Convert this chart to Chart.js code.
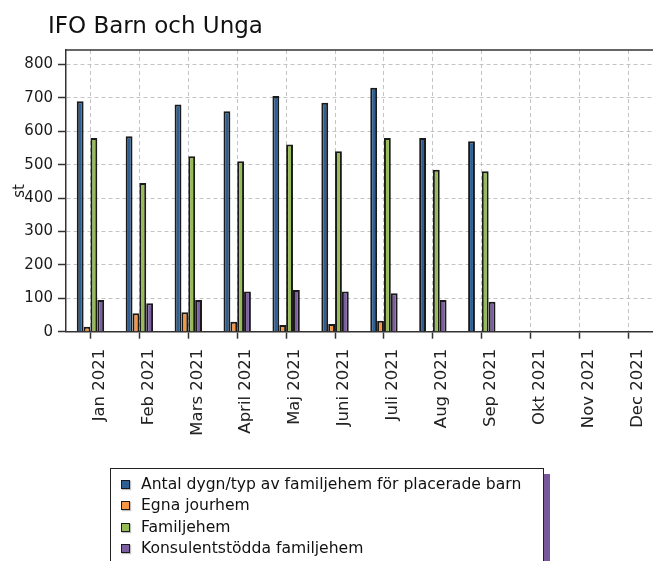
<!DOCTYPE html>
<html>
<head>
<meta charset="utf-8">
<script src="https://cdn.jsdelivr.net/npm/chart.js@4/dist/chart.umd.min.js"></script>
<style>
html,body{margin:0;padding:0;background:#fff;}
#wrap{position:relative;width:653px;height:561px;overflow:hidden;background:#fff;}
#c{position:absolute;left:0;top:0;}
#title{position:absolute;left:48px;top:14px;font-family:"DejaVu Sans";font-size:23px;line-height:23px;color:#111;white-space:nowrap;}
#legend{position:absolute;left:110px;top:468px;width:434px;height:120px;border:1.5px solid #222;background:#fff;box-shadow:6px 6px 0 0 #76589b;padding:5px 0 0 10px;box-sizing:border-box;font-family:"DejaVu Sans";font-size:15.6px;line-height:21.4px;color:#111;}
#legend .row{white-space:nowrap;}
#legend .sw{display:inline-block;width:7px;height:7px;border:1.5px solid #1a1a1a;margin-right:11px;box-shadow:1px 1px 1px rgba(0,0,0,0.25);}
</style>
</head>
<body>
<div id="wrap">
  <canvas id="c" width="653" height="561"></canvas>
  <div id="title">IFO Barn och Unga</div>
  <div id="legend"></div>
</div>
<script>
const categories = ['Jan 2021','Feb 2021','Mars 2021','April 2021','Maj 2021','Juni 2021','Juli 2021','Aug 2021','Sep 2021','Okt 2021','Nov 2021','Dec 2021'];
const seriesNames = ['Antal dygn/typ av familjehem för placerade barn','Egna jourhem','Familjehem','Konsulentstödda familjehem'];
const antalDygn   = [690, 585, 680, 660, 705, 685, 730, 580, 570, null, null, null];
const egnaJourhem = [15, 55, 58, 30, 20, 23, 33, null, null, null, null, null];
const familjehem  = [580, 445, 525, 510, 560, 540, 580, 485, 480, null, null, null];
const konsulent   = [95, 85, 95, 120, 125, 120, 115, 95, 90, null, null, null];
const yTicks = [0, 100, 200, 300, 400, 500, 600, 700, 800];
const yAxisTitle = 'st';

const colors = ['#2d5e94', '#f59745', '#97bb55', '#7d5ea1'];
const seriesData = [antalDygn, egnaJourhem, familjehem, konsulent];

const frameTop = {
  id: 'frameTop',
  afterDraw(chart) {
    const {ctx, chartArea: {left, right, top}} = chart;
    ctx.save();
    ctx.strokeStyle = '#333';
    ctx.lineWidth = 1.5;
    ctx.beginPath();
    ctx.moveTo(left, top);
    ctx.lineTo(right, top);
    ctx.stroke();
    ctx.restore();
  }
};

const gridColor = '#c4c4c4';
const chart = new Chart(document.getElementById('c'), {
  type: 'bar',
  data: {
    labels: categories,
    datasets: seriesNames.map((name, i) => ({
      label: name,
      data: seriesData[i],
      backgroundColor: colors[i],
      borderColor: '#1a1a1a',
      borderWidth: 2,
      categoryPercentage: 0.56,
      barPercentage: 1.0
    }))
  },
  options: {
    responsive: false,
    animation: false,
    devicePixelRatio: 1,
    layout: {padding: {top: 50, left: 0, right: 0, bottom: 0}},
    plugins: {legend: {display: false}, title: {display: false}, tooltip: {enabled: false}},
    scales: {
      x: {
        offset: true,
        grid: {offset: false, color: gridColor, lineWidth: 1, tickLength: 7, tickColor: '#333', tickWidth: 1.5},
        border: {display: true, color: '#333', width: 1.5, dash: [4, 3]},
        ticks: {autoSkip: false, maxRotation: 90, minRotation: 90, padding: 10, labelOffset: 9,
                color: '#222', font: {family: 'DejaVu Sans', size: 16.5}},
        afterFit: s => { s.height = 229.3; s.paddingLeft = 0; s.paddingRight = 0; }
      },
      y: {
        min: 0,
        max: 843,
        afterBuildTicks: s => { s.ticks = yTicks.map(v => ({value: v})); },
        grid: {color: gridColor, lineWidth: 1, tickLength: 8, tickColor: '#333', tickWidth: 1.5},
        border: {display: true, color: '#333', width: 1.5, dash: [4, 3]},
        ticks: {padding: 5, color: '#1a1a1a', font: {family: 'DejaVu Sans', size: 15}},
        title: {display: true, text: yAxisTitle, color: '#1a1a1a', font: {family: 'DejaVu Sans', size: 15}, padding: {top: 11, bottom: 0}},
        afterFit: s => { s.width = 66; s.paddingTop = 0; s.paddingBottom = 0; }
      }
    }
  },
  plugins: [frameTop]
});

const leg = document.getElementById('legend');
chart.data.datasets.forEach(ds => {
  const row = document.createElement('div');
  row.className = 'row';
  const sw = document.createElement('span');
  sw.className = 'sw';
  sw.style.background = ds.backgroundColor;
  row.appendChild(sw);
  row.appendChild(document.createTextNode(ds.label));
  leg.appendChild(row);
});
</script>
</body>
</html>
